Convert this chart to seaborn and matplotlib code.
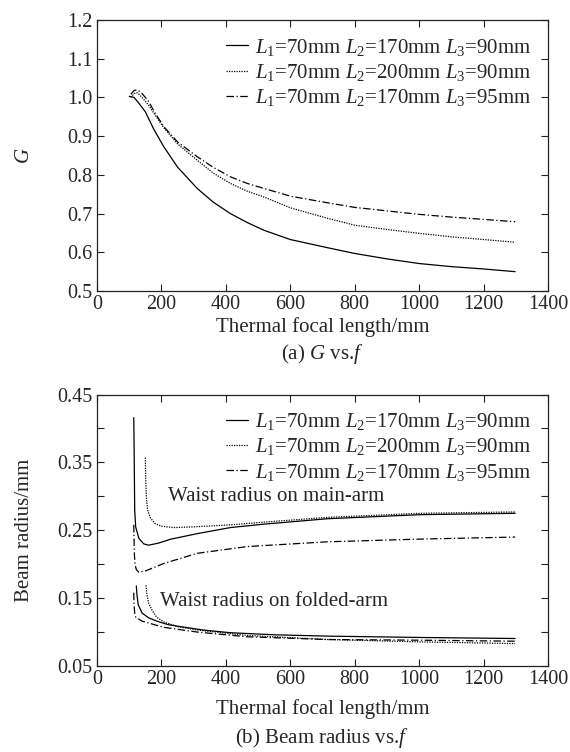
import numpy as np
import pandas as pd
import matplotlib
matplotlib.use("Agg")
import matplotlib.pyplot as plt
import seaborn as sns

# ---------------- data ----------------
labels = [r"$L_{\mathrm{1}}$=70mm $L_{\mathrm{2}}$=170mm $L_{\mathrm{3}}$=90mm",
          r"$L_{\mathrm{1}}$=70mm $L_{\mathrm{2}}$=200mm $L_{\mathrm{3}}$=90mm",
          r"$L_{\mathrm{1}}$=70mm $L_{\mathrm{2}}$=170mm $L_{\mathrm{3}}$=95mm"]

# (a) G vs f
f_G1 = [100, 115, 130, 150, 175, 207, 250, 311, 360, 414, 466, 518, 600, 715, 800, 900, 1000, 1100, 1200, 1298]
G1 = [1.003, 1.0, 0.985, 0.963, 0.92, 0.873, 0.82, 0.765, 0.73, 0.70, 0.677, 0.657, 0.633, 0.612, 0.597, 0.583, 0.571, 0.563, 0.557, 0.550]
f_G2 = [105, 115, 125, 140, 160, 180, 207, 250, 311, 360, 414, 466, 518, 600, 715, 800, 900, 1000, 1100, 1200, 1298]
G2 = [1.0, 1.01, 1.012, 1.0, 0.98, 0.955, 0.922, 0.88, 0.838, 0.805, 0.778, 0.758, 0.743, 0.715, 0.688, 0.670, 0.659, 0.649, 0.640, 0.633, 0.626]
f_G3 = [105, 115, 125, 140, 160, 180, 207, 250, 311, 360, 414, 466, 518, 600, 715, 800, 900, 1000, 1100, 1200, 1298]
G3 = [1.008, 1.018, 1.02, 1.01, 0.99, 0.96, 0.925, 0.885, 0.847, 0.82, 0.795, 0.778, 0.765, 0.745, 0.728, 0.716, 0.707, 0.698, 0.691, 0.685, 0.679]

# (b) beam radius vs f : main arm
f_m1 = [114, 115, 116, 117, 120, 130, 145, 160, 190, 230, 311, 414, 518, 715, 1003, 1298]
m1 = [0.416, 0.38, 0.33, 0.28, 0.255, 0.238, 0.230, 0.228, 0.231, 0.237, 0.245, 0.254, 0.259, 0.267, 0.273, 0.275]
f_m2 = [150, 151, 153, 157, 166, 180, 200, 238, 300, 414, 518, 715, 1003, 1298]
m2 = [0.357, 0.33, 0.30, 0.28, 0.268, 0.26, 0.256, 0.254, 0.255, 0.258, 0.262, 0.269, 0.275, 0.277]
f_m3 = [114, 115, 116, 118, 122, 130, 150, 207, 311, 466, 715, 1003, 1298]
m3 = [0.258, 0.235, 0.215, 0.2, 0.192, 0.188, 0.19, 0.201, 0.216, 0.226, 0.233, 0.237, 0.240]
# folded arm
f_d1 = [122, 124, 128, 140, 160, 186, 220, 259, 330, 414, 550, 715, 1003, 1298]
d1 = [0.168, 0.155, 0.14, 0.128, 0.121, 0.116, 0.111, 0.108, 0.103, 0.099, 0.096, 0.094, 0.092, 0.0905]
f_d2 = [152, 155, 160, 171, 185, 207, 250, 311, 466, 715, 1003, 1298]
d2 = [0.169, 0.155, 0.143, 0.132, 0.122, 0.115, 0.108, 0.103, 0.095, 0.089, 0.0855, 0.083]
f_d3 = [114, 115, 117, 120, 140, 170, 207, 311, 466, 715, 1003, 1298]
d3 = [0.158, 0.14, 0.128, 0.122, 0.116, 0.112, 0.107, 0.100, 0.093, 0.089, 0.088, 0.0865]

x_ticks = [0, 200, 400, 600, 800, 1000, 1200, 1400]
G_ticks = [0.5, 0.6, 0.7, 0.8, 0.9, 1.0, 1.1, 1.2]
r_ticks = [0.05, 0.15, 0.25, 0.35, 0.45]

# ---------------- style ----------------
sns.set_style("ticks")
plt.rcParams['font.family'] = ['Liberation Serif', 'DejaVu Serif']
plt.rcParams['mathtext.fontset'] = 'custom'
plt.rcParams['mathtext.rm'] = 'Liberation Serif'
plt.rcParams['mathtext.it'] = 'Liberation Serif:italic'
plt.rcParams['mathtext.bf'] = 'Liberation Serif:bold'
plt.rcParams['xtick.direction'] = 'in'
plt.rcParams['ytick.direction'] = 'in'

FS = 15
TFS = 14.5
styles = ['-', (0, (1, 1)), (0, (6, 2, 1, 2))]

fig = plt.figure(figsize=(5.7, 7.52), dpi=100)
ax1 = fig.add_axes([0.1702, 0.6130, 0.7912, 0.3604])
ax2 = fig.add_axes([0.1702, 0.1144, 0.7912, 0.3609])

def style_ax(ax):
    for s in ax.spines.values():
        s.set_color('#222222')
        s.set_linewidth(0.9)
    ax.tick_params(axis='both', which='both', direction='in', top=True, right=True,
                   length=5, width=0.8, labelsize=TFS, color='#222222', pad=3)

leg_kw = dict(loc='upper right', frameon=False, fontsize=FS, handlelength=1.05,
              handletextpad=0.35, labelspacing=0.2, borderaxespad=0.4,
              bbox_to_anchor=(1.0, 1.0))

# (a)
for xs, ys, ls, lab in zip([f_G1, f_G2, f_G3], [G1, G2, G3], styles, labels):
    sns.lineplot(x=xs, y=ys, ax=ax1, color='k', linestyle=ls, linewidth=0.9, label=lab,
                 estimator=None, sort=False)
ax1.set_xlim(0, 1400)
ax1.set_ylim(0.5, 1.2)
ax1.set_xticks(x_ticks)
ax1.set_yticks(G_ticks)
ax1.set_yticklabels([f"{v:.1f}" for v in G_ticks])
ax1.set_xlabel("Thermal focal length/mm", fontsize=FS, labelpad=2)
ax1.set_ylabel(r"$G$", fontsize=FS, labelpad=24)
style_ax(ax1)
ax1.legend(**leg_kw)

# (b)
for xs, ys, ls, lab in zip([f_m1, f_m2, f_m3], [m1, m2, m3], styles, labels):
    sns.lineplot(x=xs, y=ys, ax=ax2, color='k', linestyle=ls, linewidth=0.9, label=lab,
                 estimator=None, sort=False)
for xs, ys, ls in zip([f_d1, f_d2, f_d3], [d1, d2, d3], styles):
    sns.lineplot(x=xs, y=ys, ax=ax2, color='k', linestyle=ls, linewidth=0.9,
                 estimator=None, sort=False)
ax2.set_xlim(0, 1400)
ax2.set_ylim(0.05, 0.45)
ax2.set_xticks(x_ticks)
ax2.set_yticks(r_ticks)
ax2.set_yticklabels([f"{v:.2f}" for v in r_ticks])
ax2.yaxis.set_minor_locator(matplotlib.ticker.MultipleLocator(0.05))
ax2.set_xlabel("Thermal focal length/mm", fontsize=FS, labelpad=7)
ax2.set_ylabel("Beam radius/mm", fontsize=FS, labelpad=17)
style_ax(ax2)
ax2.tick_params(axis='y', which='minor', direction='in', right=True, length=5, width=0.8)
ax2.legend(**leg_kw)
ax2.text(220, 0.300, "Waist radius on main-arm", fontsize=FS, ha='left', va='center')
ax2.text(196, 0.145, "Waist radius on folded-arm", fontsize=FS, ha='left', va='center')

fig.text(0.565, 1 - 354 / 752, r"(a) $G$ vs.$f$", fontsize=FS, ha='center', va='center')
fig.text(0.565, 1 - 738 / 752, r"(b) Beam radius vs.$f$", fontsize=FS, ha='center', va='center')

fig.savefig("out.png", dpi=100)
